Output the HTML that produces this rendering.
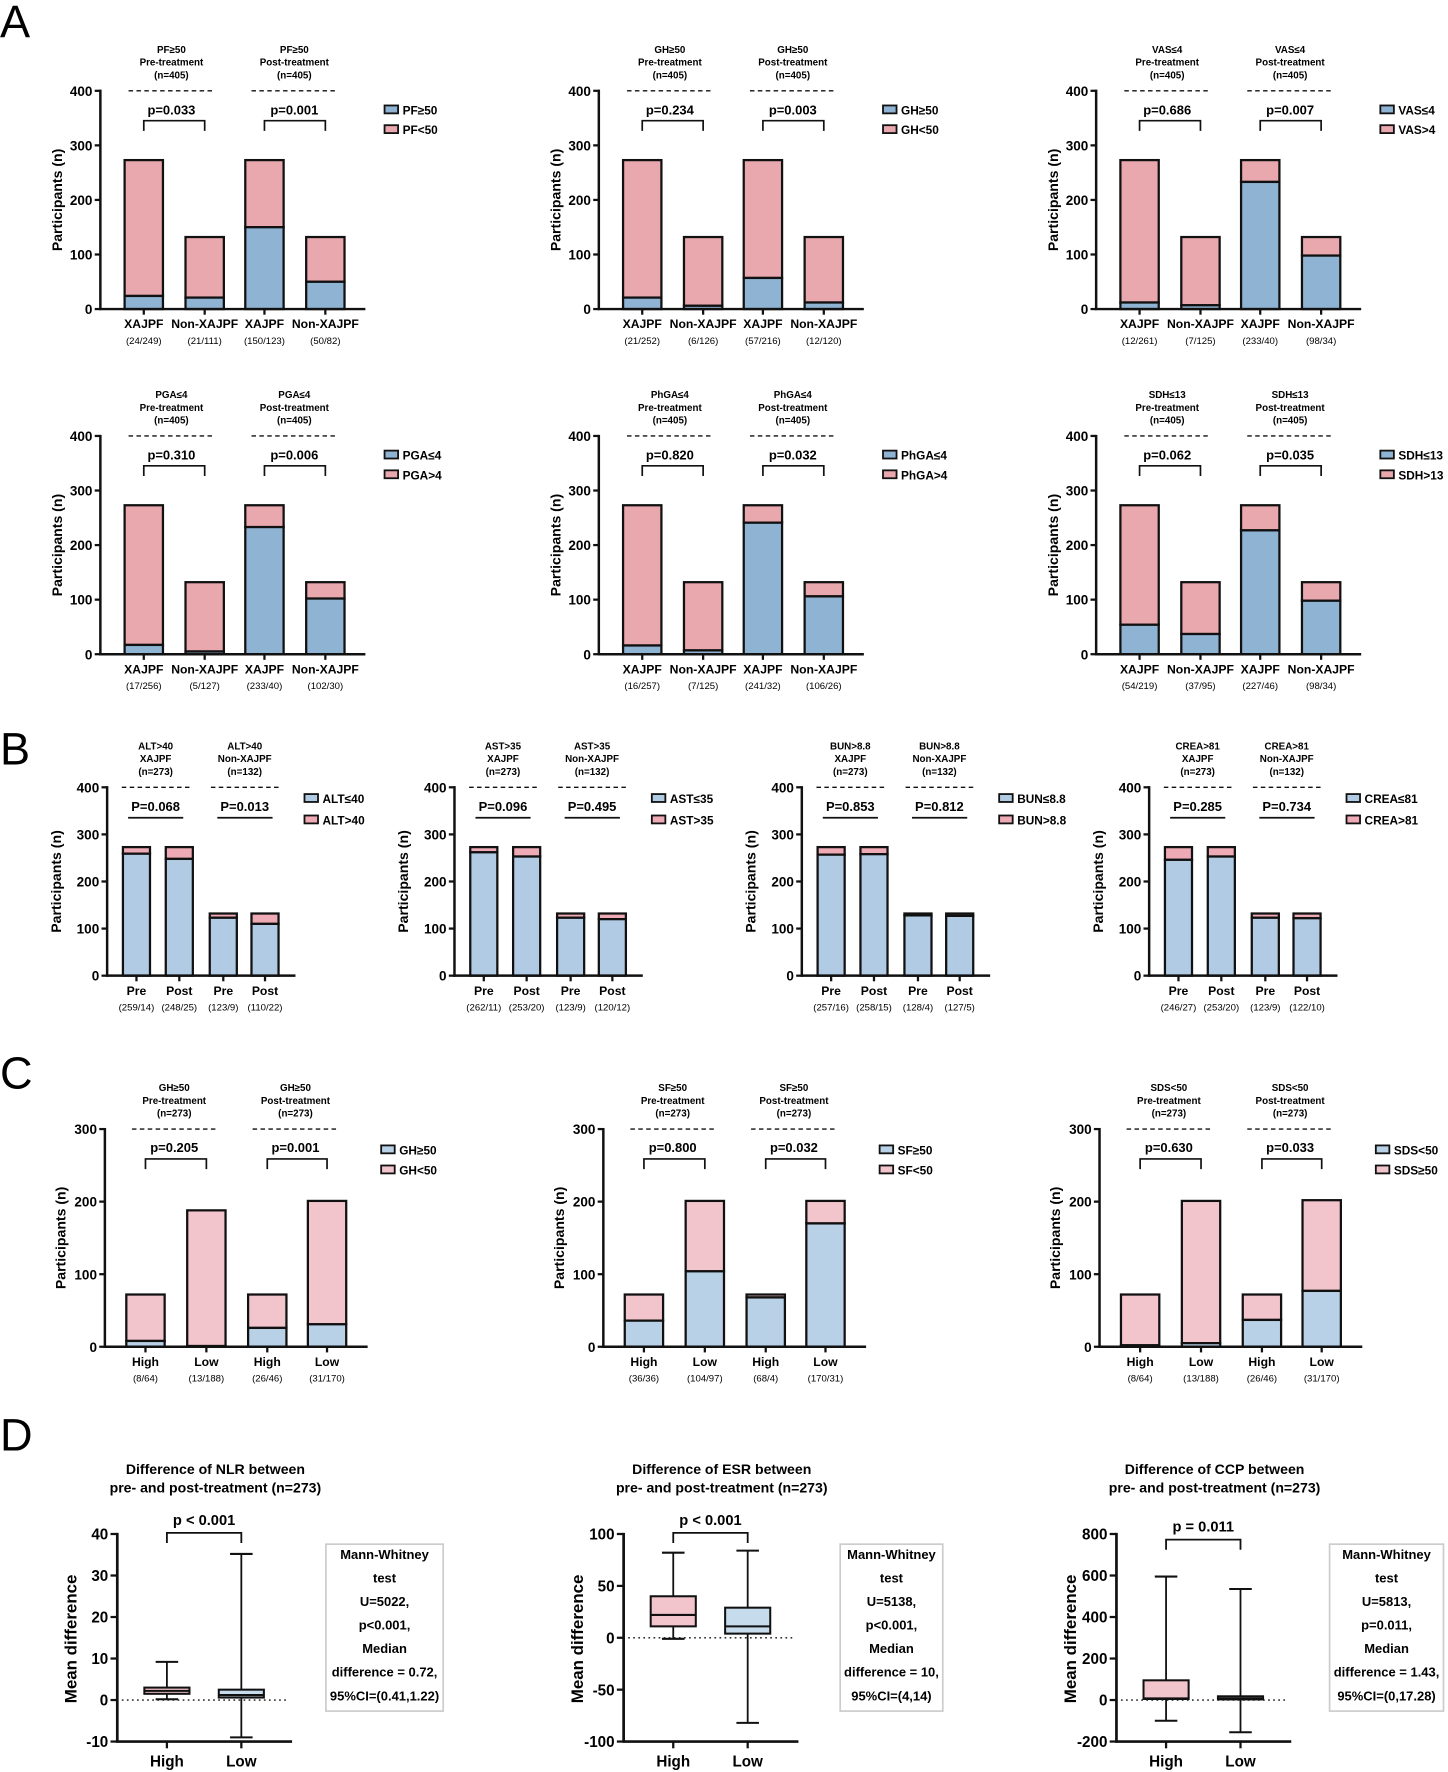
<!DOCTYPE html>
<html><head><meta charset="utf-8"><style>
html,body{margin:0;padding:0;background:#fff;}
svg{display:block;font-family:"Liberation Sans",Arial,sans-serif;font-weight:bold;}
</style></head><body>
<svg id="fig" width="1448" height="1772" viewBox="0 0 1284 1571" preserveAspectRatio="none" xmlns="http://www.w3.org/2000/svg">
<text x="0" y="33" font-size="40" font-weight="normal">A</text>
<text x="0" y="678" font-size="40" font-weight="normal">B</text>
<text x="0" y="965" font-size="40" font-weight="normal">C</text>
<text x="0" y="1286" font-size="40" font-weight="normal">D</text>
</svg>
<script>
// ---------- Panel A data ----------
const aNames = ['pf','gh','vas','pga','phga','sdh'];
const aBlue = [[24,21,150,50],[21,6,57,12],[12,7,233,98],[17,5,233,102],[16,7,241,106],[54,37,227,98]];
const aPink = [[249,111,123,82],[252,126,216,120],[261,125,40,34],[256,127,40,30],[257,125,32,26],[219,95,46,34]];
const aPvals = [['p=0.033','p=0.001'],['p=0.234','p=0.003'],['p=0.686','p=0.007'],['p=0.310','p=0.006'],['p=0.820','p=0.032'],['p=0.062','p=0.035']];
const aVar = ['PF≥50','GH≥50','VAS≤4','PGA≤4','PhGA≤4','SDH≤13'];
const aLegend = [['PF≥50','PF<50'],['GH≥50','GH<50'],['VAS≤4','VAS>4'],['PGA≤4','PGA>4'],['PhGA≤4','PhGA>4'],['SDH≤13','SDH>13']];
const aCats = ['XAJPF','Non-XAJPF','XAJPF','Non-XAJPF'];
const aTicks = [0,100,200,300,400];
// ---------- Panel B data ----------
const bNames = ['alt','ast','bun','crea'];
const bBlue = [[259,248,123,110],[262,253,123,120],[257,258,128,127],[246,253,123,122]];
const bPink = [[14,25,9,22],[11,20,9,12],[16,15,4,5],[27,20,9,10]];
const bPvals = [['P=0.068','P=0.013'],['P=0.096','P=0.495'],['P=0.853','P=0.812'],['P=0.285','P=0.734']];
const bVar = ['ALT>40','AST>35','BUN>8.8','CREA>81'];
const bLegend = [['ALT≤40','ALT>40'],['AST≤35','AST>35'],['BUN≤8.8','BUN>8.8'],['CREA≤81','CREA>81']];
const bCats = ['Pre','Post','Pre','Post'];
// ---------- Panel C data ----------
const cNames = ['gh','sf','sds'];
const cBlue = [[8,1,26,31],[36,104,68,170],[2,5,37,77]];
const cPink = [[64,187,46,170],[36,97,4,31],[70,196,35,125]];
const cSub = [['(8/64)','(13/188)','(26/46)','(31/170)'],['(36/36)','(104/97)','(68/4)','(170/31)'],['(8/64)','(13/188)','(26/46)','(31/170)']];
const cPvals = [['p=0.205','p=0.001'],['p=0.800','p=0.032'],['p=0.630','p=0.033']];
const cVar = ['GH≥50','SF≥50','SDS<50'];
const cLegend = [['GH≥50','GH<50'],['SF≥50','SF<50'],['SDS<50','SDS≥50']];
const cCats = ['High','Low','High','Low'];
const cTicks = [0,100,200,300];
// ---------- Panel D data ----------
const dNames = ['nlr','esr','ccp'];
const dTitles = ['NLR','ESR','CCP'];
const dTicks = [[-10,0,10,20,30,40],[-100,-50,0,50,100],[-200,0,200,400,600,800]];
const dMin = [-10,-100,-200];
const dMax = [40,100,800];
// [whiskerLow, q1, median, q3, whiskerHigh] for High and Low
const dHigh = [[0.2,1.5,2.2,3,9.2],[-1,11,22,40,82],[-100,5,8,95,595]];
const dLow = [[-9,0.6,1.2,2.5,35.2],[-82,4,11,29,84],[-155,3,8,18,535]];
const dP = ['p < 0.001','p < 0.001','p = 0.011'];
const dStats = [['Mann-Whitney','test','U=5022,','p<0.001,','Median','difference = 0.72,','95%CI=(0.41,1.22)'],
 ['Mann-Whitney','test','U=5138,','p<0.001,','Median','difference = 10,','95%CI=(4,14)'],
 ['Mann-Whitney','test','U=5813,','p=0.011,','Median','difference = 1.43,','95%CI=(0,17.28)']];

const svg = document.getElementById('fig');
const NS = 'http://www.w3.org/2000/svg';
function mk(tag, attrs, parent, txt){
  const e = document.createElementNS(NS, tag);
  for (const k in attrs) e.setAttribute(k, attrs[k]);
  if (txt !== undefined) e.textContent = txt;
  (parent || svg).appendChild(e);
  return e;
}

function barChart(o){
  const g = mk('g', {});
  
  
  const yS = v => o.y0 - (v / o.max) * (o.y0 - o.yTop);
  const ax = o.ax;
  o.ticks.forEach(t => {
    const y = yS(t);
    const tk = mk('line', {x1: ax-5, x2: ax, y1: y, y2: y, stroke: '#111', 'stroke-width': 2}, g);
    
    
    const tl = mk('text', {x: ax-7, y: y+4.5, 'font-size': 12, 'text-anchor': 'end'}, g, String(t));
    
    
  });
  const yt = mk('text', {x: 0, y: 0, 'font-size': 12.5, 'text-anchor': 'middle', transform: `translate(${ax-o.titleOff},${(o.y0+o.yTop)/2}) rotate(-90)`}, g, 'Participants (n)');
  
  
  o.blue.forEach((b, i) => {
    const cx = ax + o.bx[i];
    const p = o.pink[i];
    const pr = mk('rect', {x: cx-o.bw/2, y: yS(b+p), width: o.bw, height: yS(b)-yS(b+p), fill: o.cp, stroke: '#111', 'stroke-width': 2}, g);
    
    
    const br = mk('rect', {x: cx-o.bw/2, y: yS(b), width: o.bw, height: o.y0-yS(b), fill: o.cb, stroke: '#111', 'stroke-width': 2}, g);
    
    
    const xt = mk('line', {x1: cx, x2: cx, y1: o.y0, y2: o.y0+5, stroke: '#111', 'stroke-width': 2}, g);
    
    
    const cl = mk('text', {x: cx, y: o.catY, 'font-size': 10.8, 'text-anchor': 'middle'}, g, o.cats[i]);
    
    
    const sl = mk('text', {x: cx, y: o.catY+14, 'font-size': 8.5, 'text-anchor': 'middle', 'font-weight': 'normal'}, g, o.sub[i]);
    
    
  });
  const ya = mk('line', {x1: ax, x2: ax, y1: o.yTop-1, y2: o.y0+1, stroke: '#111', 'stroke-width': 2.2}, g);
  
  
  const xa = mk('line', {x1: ax-1, x2: ax+o.xEnd, y1: o.y0, y2: o.y0, stroke: '#111', 'stroke-width': 2.2}, g);
  
  
  [0,1].forEach(k => {
    const d = o.dash[k];
    const mid = (d[0]+d[1])/2 + ax;
    const dl = mk('line', {x1: ax+d[0], x2: ax+d[1], y1: o.yTop, y2: o.yTop, stroke: '#111', 'stroke-width': 1.3, 'stroke-dasharray': '4,3'}, g);
    
    
    o.titles[k].forEach((t, j) => {
      const tt = mk('text', {x: mid, y: o.yTop - 9 - (o.titles[k].length-1-j)*11.3 - 2, 'font-size': 8.7, 'text-anchor': 'middle'}, g, t);
      
      
    });
    const pt = mk('text', {x: mid, y: o.pY, 'font-size': 11.5, 'text-anchor': 'middle'}, g, o.p[k]);
    
    
    if (o.bracket){
      const x1 = ax + o.bx[2*k], x2 = ax + o.bx[2*k+1];
      const br = mk('path', {d: `M${x1},${o.brY+9} V${o.brY} H${x2} V${o.brY+9}`, fill: 'none', stroke: '#111', 'stroke-width': 1.5}, g);
      
      
    } else {
      const l = o.line[k];
      const ln = mk('line', {x1: ax+l[0], x2: ax+l[1], y1: o.brY, y2: o.brY, stroke: '#111', 'stroke-width': 1.5}, g);
      
      
    }
  });
  o.legend.forEach((t, j) => {
    const ly = o.legY[j];
    const sq = mk('rect', {x: ax+o.legX, y: ly-4, width: 12, height: 7, fill: j===0?o.cb:o.cp, stroke: '#111', 'stroke-width': 1.6}, g);
    
    
    const lt = mk('text', {x: ax+o.legX+16, y: ly+4, 'font-size': 10.5}, g, t);
    
    
  });
}

const aAx = [89, 531, 972];
aNames.forEach((n, i) => {
  const row = Math.floor(i/3), col = i%3;
  const off = row*306;
  barChart({name: 'chart-a-'+n, ax: aAx[col], y0: 274+off, yTop: 80.5+off, max: 400, ticks: aTicks,
    blue: aBlue[i], pink: aPink[i], cb: '#8fb3d3', cp: '#e9a7ae', bx: [38.5,92.5,145.5,199.5], bw: 34, xEnd: 235,
    cats: aCats, sub: aBlue[i].map((b,k) => `(${b}/${aPink[i][k]})`), catY: 291+off,
    dash: [[25,101],[134,210]], titles: [[aVar[i],'Pre-treatment','(n=405)'],[aVar[i],'Post-treatment','(n=405)']],
    p: aPvals[i], pY: 101.5+off, bracket: true, brY: 107+off, legend: aLegend[i], legX: 252, legY: [97.5+off, 115+off], titleOff: 34});
});
const bAx = [95, 403, 711, 1019];
bNames.forEach((n, i) => {
  barChart({name: 'chart-b-'+n, ax: bAx[i], y0: 865, yTop: 698, max: 400, ticks: aTicks,
    blue: bBlue[i], pink: bPink[i], cb: '#b0cbe3', cp: '#eeaab5', bx: [26,64,103,140], bw: 24, xEnd: 167,
    cats: bCats, sub: bBlue[i].map((b,k) => `(${b}/${bPink[i][k]})`), catY: 882,
    dash: [[13,73],[92,152]], titles: [[bVar[i],'XAJPF','(n=273)'],[bVar[i],'Non-XAJPF','(n=132)']],
    p: bPvals[i], pY: 719, bracket: false, brY: 725, line: [[18.6,67.5],[97.7,146.7]],
    legend: bLegend[i], legX: 175, legY: [708, 727], titleOff: 41});
});
const cAx = [93, 535, 975];
cNames.forEach((n, i) => {
  barChart({name: 'chart-c-'+n, ax: cAx[i], y0: 1194, yTop: 1001, max: 300, ticks: cTicks,
    blue: cBlue[i], pink: cPink[i], cb: '#b9d1e6', cp: '#f2c5cd', bx: [36,90,144,197], bw: 34, xEnd: 233,
    cats: cCats, sub: cSub[i], catY: 1211,
    dash: [[24,99],[131,207]], titles: [[cVar[i],'Pre-treatment','(n=273)'],[cVar[i],'Post-treatment','(n=273)']],
    p: cPvals[i], pY: 1021.5, bracket: true, brY: 1027.5, legend: cLegend[i], legX: 245, legY: [1019.5, 1037.3], titleOff: 35});
});

const dAx = [104, 553, 990];
const dBox = [[289,393],[745,836],[1179,1280]];
dNames.forEach((n, i) => {
  const g = mk('g', {});
  
  
  const ax = dAx[i], y0 = 1544, yT = 1360;
  const yS = v => y0 - (v - dMin[i]) / (dMax[i] - dMin[i]) * (y0 - yT);
  dTicks[i].forEach(t => {
    const tk = mk('line', {x1: ax-6, x2: ax, y1: yS(t), y2: yS(t), stroke: '#111', 'stroke-width': 2}, g);
    
    
    const tl = mk('text', {x: ax-8, y: yS(t)+5, 'font-size': 13.5, 'text-anchor': 'end'}, g, String(t));
    
    
  });
  const yt = mk('text', {x: 0, y: 0, 'font-size': 15, 'text-anchor': 'middle', transform: `translate(${ax-36},${(y0+yT)/2+1}) rotate(-90)`}, g, 'Mean difference');
  
  
  const xEnd = ax + 155;
  const zl = mk('line', {x1: ax+4, x2: xEnd-5, y1: yS(0), y2: yS(0), stroke: '#111', 'stroke-width': 1.2, 'stroke-dasharray': '1.5,3'}, g);
  
  
  const xs = [ax+44, ax+110];
  const boxes = [dHigh[i], dLow[i]];
  const fills = ['#f2c4cc', '#c6dbeb'];
  const cats = ['High','Low'];
  boxes.forEach((b, k) => {
    const cx = xs[k], w = 40;
    const wl = mk('line', {x1: cx, x2: cx, y1: yS(b[0]), y2: yS(b[4]), stroke: '#111', 'stroke-width': 1.6}, g);
    
    
    [b[0], b[4]].forEach(v => {
      const c = mk('line', {x1: cx-10, x2: cx+10, y1: yS(v), y2: yS(v), stroke: '#111', 'stroke-width': 1.8}, g);
      
      
    });
    const bx = mk('rect', {x: cx-w/2, y: yS(b[3]), width: w, height: yS(b[1])-yS(b[3]), fill: fills[k], stroke: '#111', 'stroke-width': 1.8}, g);
    
    
    const md = mk('line', {x1: cx-w/2, x2: cx+w/2, y1: yS(b[2]), y2: yS(b[2]), stroke: '#111', 'stroke-width': 1.8}, g);
    
    
    const xt = mk('line', {x1: cx, x2: cx, y1: y0, y2: y0+6, stroke: '#111', 'stroke-width': 2}, g);
    
    
    const cl = mk('text', {x: cx, y: y0+22, 'font-size': 13.5, 'text-anchor': 'middle'}, g, cats[k]);
    
    
  });
  const ya = mk('line', {x1: ax, x2: ax, y1: yT-1, y2: y0+1, stroke: '#111', 'stroke-width': 2.4}, g);
  
  
  const xa = mk('line', {x1: ax-1, x2: xEnd, y1: y0, y2: y0, stroke: '#111', 'stroke-width': 2.4}, g);
  
  
  const mid = (xs[0]+xs[1])/2;
  const brY = i===2 ? 1365 : 1359;
  const br = mk('path', {d: `M${xs[0]},${brY+9} V${brY} H${xs[1]} V${brY+9}`, fill: 'none', stroke: '#111', 'stroke-width': 1.6}, g);
  
  
  const pt = mk('text', {x: mid, y: brY-7, 'font-size': 13, 'text-anchor': 'middle'}, g, dP[i]);
  
  
  const tcx = mid + 10;
  const t1 = mk('text', {x: tcx, y: 1307, 'font-size': 12.5, 'text-anchor': 'middle'}, g, `Difference of ${dTitles[i]} between`);
  
  
  const t2 = mk('text', {x: tcx, y: 1323, 'font-size': 12.5, 'text-anchor': 'middle'}, g, 'pre- and post-treatment (n=273)');
  
  
  const bb = dBox[i];
  const sb = mk('rect', {x: bb[0], y: 1369, width: bb[1]-bb[0], height: 148, fill: '#fff', stroke: '#ccc', 'stroke-width': 1.5}, g);
  
  
  dStats[i].forEach((s, j) => {
    const st = mk('text', {x: (bb[0]+bb[1])/2, y: 1382 + j*20.9, 'font-size': 11.5, 'text-anchor': 'middle'}, g, s);
    
    
  });
});
</script>
</body></html>
